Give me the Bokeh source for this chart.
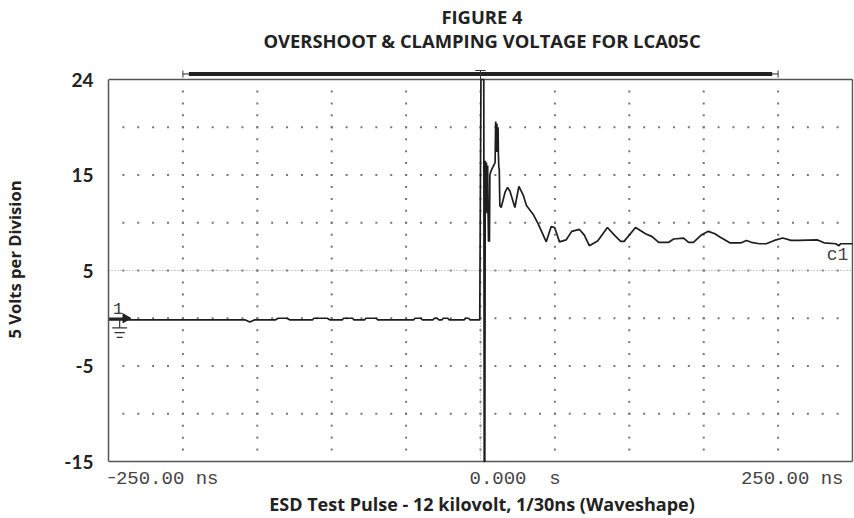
import numpy as np
from math import pi
from bokeh.plotting import figure
from bokeh.models import FixedTicker, Range1d
from bokeh.core.properties import value
from bokeh.embed import file_html
from bokeh.resources import INLINE

# ---------------- data (time in ns, voltage in V) ----------------
trace_t = [-250, -158, -155, -152, -138, -136, -130, -128, -113, -112, -103, -101,
           -93, -92, -86, -85, -78, -77, -70, -69, -45, -44, -40, -39, -32, -31,
           -29, -28, -26, -25, -22, -21, -11, -10, -8, -7, -0.5,
           0.3, 2.2, 2.5, 2.9, 3.2, 3.6, 4.0, 4.4, 4.8, 5.1, 5.4, 5.7, 6.0, 6.3,
           7.0, 8.2, 9.2, 9.8, 10.2, 10.6, 11.0, 11.4, 11.8, 12.0, 12.3, 12.6,
           13.0, 13.9, 16.5, 18.2, 19.8, 23.1, 25.8, 28.7, 30.9, 35.3, 38.7,
           44.2, 47.5, 49.8, 53.1, 57.5, 61.3, 66.5, 69.8, 73.1, 78.7, 85.3,
           90.0, 94.2, 96.5, 104.2, 110.9, 115.3, 119.8, 126.5, 129.8, 136.5,
           139.8, 143.1, 148.7, 153.1, 157.5, 160.9, 167.5, 175.3, 178.7, 182.0,
           187.5, 192.0, 197.5, 203.1, 208.7, 214.2, 226.5, 230.9, 238.7, 240.9,
           242.0, 250.0]
trace_v = [-0.18, -0.18, -0.4, -0.18, -0.18, 0.0, 0.0, -0.18, -0.18, 0.0, 0.0, -0.18,
           -0.18, 0.0, 0.0, -0.18, -0.18, 0.0, 0.0, -0.18, -0.18, 0.0, 0.0, -0.18,
           -0.18, 0.0, 0.0, -0.18, -0.18, 0.0, 0.0, -0.18, -0.18, 0.0, 0.0, -0.18, -0.18,
           25.0, 25.0, -15.0, -15.0, 16.5, 11.2, 16.3, 11.0, 16.0, 11.0, 8.0, 11.5, 8.0, 15.0,
           15.4, 15.8, 16.1, 16.3, 20.6, 17.4, 20.4, 17.4, 20.0, 17.4, 15.8, 15.6,
           11.8, 11.6, 13.2, 13.7, 13.3, 11.6, 13.8, 12.9, 11.8, 10.9, 9.9,
           8.0, 9.6, 9.5, 8.0, 8.2, 9.1, 9.3, 8.7, 7.6, 8.1, 9.5,
           8.7, 8.05, 8.05, 9.5, 8.85, 8.55, 7.95, 7.95, 8.3, 8.4,
           7.95, 7.95, 8.75, 9.1, 8.85, 8.5, 7.9, 7.9, 8.15, 7.95,
           7.8, 7.8, 8.15, 8.4, 8.15, 8.15, 8.2, 7.9, 7.8, 7.6,
           7.8, 7.8]

y_tick_values = [-15, -5, 5, 15, 25]
y_tick_labels = ["-15", "-5", "5", "15", "24"]
x_tick_values = [-250, 0, 250]
x_tick_labels = ["\u2212250.00 ns", "0.000\u00a0 s", "250.00 ns"]
record_window = [-200, 200]
trigger_time = 0
channel_level = 0
channel_name = "1"
clamp_label = "c1"
title_lines = ["FIGURE 4", "OVERSHOOT & CLAMPING VOLTAGE FOR LCA05C"]
x_title = "ESD Test Pulse - 12 kilovolt, 1/30ns (Waveshape)"
y_title = "5 Volts per Division"

# ---------------- figure ----------------
T0, T1 = -250, 250
V0, V1 = -15, 25
PX_PER_V = 9.55
FRAME_TOP_PX, FRAME_H = 79, 518   # screen row of V1, canvas height
v_hi = V1 + FRAME_TOP_PX / PX_PER_V
v_lo = V1 - (FRAME_H - FRAME_TOP_PX) / PX_PER_V

p = figure(width=854, height=518, output_backend="svg", toolbar_location=None,
           x_range=Range1d(T0, T1 + 0.667), y_range=Range1d(v_lo, v_hi),
           x_axis_location=None,
           min_border_left=102, min_border_right=1, min_border_top=0,
           min_border_bottom=0)
p.outline_line_color = None
p.background_fill_color = "white"
p.border_fill_color = "white"
p.xgrid.visible = False
p.ygrid.visible = False

ax = p.yaxis[0]
ax.ticker = FixedTicker(ticks=y_tick_values)
ax.major_label_overrides = {v: s for v, s in zip(y_tick_values, y_tick_labels)}
ax.major_tick_line_color = None
ax.minor_tick_line_color = None
ax.axis_line_color = "#555555"
ax.axis_line_width = 1.5
ax.bounds = (V0, V1)
ax.major_label_standoff = 9
ax.major_label_text_font = "Lato"
ax.major_label_text_font_style = "bold"
ax.major_label_text_font_size = "19px"
ax.major_label_text_color = "#222222"
ax.axis_label = y_title
ax.axis_label_text_font = "Open Sans"
ax.axis_label_text_font_style = "bold"
ax.axis_label_text_font_size = "16.6px"
ax.axis_label_text_color = "#222222"
ax.axis_label_standoff = 35

# screen borders
BORDER = dict(line_color="#555555", line_width=1.5)
p.line([T0, T1], [V1, V1], **BORDER)
p.line([T1, T1], [V0, V1], **BORDER)
p.line([T0, T1], [V0, V0], **BORDER)

# dotted graticule
div_t, div_v = 50, 5
h_levels = np.arange(V0 + div_v, V1, div_v)
h_dots_t = np.arange(T0 + div_t / 5, T1, div_t / 5)
v_levels = np.arange(T0 + div_t, T1, div_t)
v_dots_v = np.arange(V0 + div_v / 4, V1, div_v / 4)
gx, gy = [], []
for lv in h_levels:
    gx.extend(h_dots_t); gy.extend([lv] * len(h_dots_t))
for lt in v_levels:
    gx.extend([lt] * len(v_dots_v)); gy.extend(v_dots_v)
p.scatter(gx, gy, marker="square", size=2, fill_color="#777777", line_color=None)
p.line([T0, T1], [(V0 + V1) / 2] * 2, line_color="#999999", line_dash="1 2", line_width=1)
p.line([trigger_time] * 2, [V0, V1], line_color="#999999", line_dash="1 2", line_width=1)

# trace
p.line(trace_t, trace_v, line_color="#1e1e1e", line_width=1.7)

# record window bar + trigger marker above the screen
bar_v = V1 + 0.58
p.line(record_window, [bar_v] * 2, line_color="#222222", line_width=1)
p.line([record_window[0] + 4, record_window[1] - 4], [bar_v] * 2, line_color="#222222", line_width=4)
for rw in record_window:
    p.line([rw, rw], [V1 + 0.2, V1 + 0.94], line_color="#333333", line_width=1)
p.line([trigger_time] * 2, [V1, V1 + 0.94], line_color="#333333", line_width=1)
p.line([trigger_time - 3.5, trigger_time + 3.5], [V1 + 0.94] * 2, line_color="#333333", line_width=1)

# channel marker + ground symbol
p.scatter([T0 + 11.5], [channel_level], marker="triangle", angle=-pi / 2, size=9,
          fill_color="#222222", line_color="#222222")
p.line([T0, T0 + 10], [channel_level] * 2, line_color="#222222", line_width=1.5)
gt = T0 + 7.5
p.line([gt, gt], [channel_level, channel_level - 1.0], line_color="#333333", line_width=1.2)
for k, half in enumerate([5.0, 3.5, 2.0]):
    lv = channel_level - 1.0 - 0.5 * k
    p.line([gt - half, gt + half], [lv, lv], line_color="#333333", line_width=1.2)

MONO = dict(text_font=value("Liberation Mono"), text_baseline="middle")
p.text([T0 + 6.5], [channel_level + 1.05], text=[channel_name], text_align="center",
       text_font_size="17px", text_color="#333333", **MONO)
p.text([T1 - 17.3], [6.67], text=[clamp_label], text_align="left",
       text_font_size="18px", text_color="#444444", **MONO)

# time-axis labels
aligns = ["left", "left", "right"]
offs = [-4, -11, -9]
tick_label_v = V0 - 1.8
for tv, tl, al, of in zip(x_tick_values, x_tick_labels, aligns, offs):
    p.text([tv], [tick_label_v], text=[tl], text_align=al, x_offset=of,
           text_font_size="19px", text_color="#444444", **MONO)

BOLD = dict(text_font=value("Open Sans"), text_font_style="bold", text_baseline="middle",
            text_align="center", text_color="#222222")
p.text([1, 1], [V1 + 6.6, V1 + 4.08], text=title_lines, text_font_size="18.4px", **BOLD)
p.text([1], [V0 - 4.4], text=[x_title], text_font_size="18px", **BOLD)

open("out.html", "w").write(file_html(p, INLINE))
